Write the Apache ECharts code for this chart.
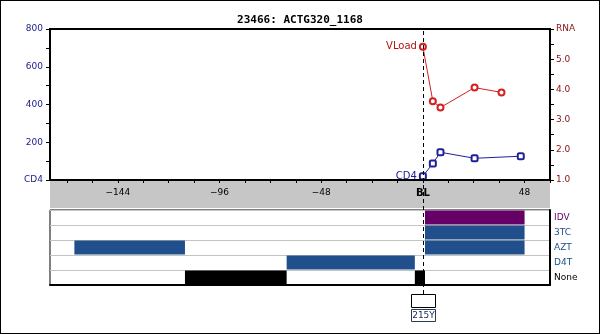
<!DOCTYPE html>
<html>
<head>
<meta charset="utf-8">
<script src="https://cdn.jsdelivr.net/npm/echarts@6/dist/echarts.min.js"></script>
<style>
  html, body { margin: 0; padding: 0; background: #fff; }
  #wrap { position: relative; width: 600px; height: 334px; }
  #chart { width: 600px; height: 334px; }
  #frame { position: absolute; left: 0; top: 0; width: 600px; height: 334px; box-sizing: border-box;
           border: 1px solid #000; pointer-events: none; }
</style>
</head>
<body>
<div id="wrap"><div id="chart"></div><div id="frame"></div></div>
<script>
// Patient record: viral load (log RNA) and CD4 counts by week relative to baseline
const TITLE = '23466: ACTG320_1168';

const rnaWeeks  = [0, 4.7, 8.3, 24.4, 37.1];
const rnaLog    = [5.41, 3.61, 3.40, 4.06, 3.90];

const cd4Weeks  = [0, 4.7, 8.3, 24.4, 46.2];
const cd4Counts = [20, 88, 147, 115, 126];

// Treatment history rows (top to bottom) and periods [drug, startWeek, endWeek]
const drugRows = ['IDV', '3TC', 'AZT', 'D4T', 'None'];
const drugColors = { IDV: '#660066', '3TC': '#214f8b', AZT: '#214f8b', D4T: '#214f8b', None: '#000000' };
const regimens = [
  ['AZT', -164.5, -112.3],
  ['None', -112.3, -64.3],
  ['D4T', -64.3, -3.8],
  ['None', -3.8, 1],
  ['IDV', 1, 48],
  ['3TC', 1, 48],
  ['AZT', 1, 48]
];

// Resistance mutations detected: [week, label]
const mutations = [[0, '215Y']];

// Week axis
const WEEK_MIN = -176, WEEK_MAX = 60;
const weekTicks = [-168, -156, -144, -132, -120, -108, -96, -84, -72, -60, -48, -36, -24, -12, 0, 12, 24, 36, 48, 60];
const weekLabels = [-144, -96, -48, 0, 48];

const FONT = 'DejaVu Sans';
const NAVY = '#1a1a8a';
const DARKRED = '#8a1010';
const RED = '#d42020';
const BLUE = '#20209a';

const chart = echarts.init(document.getElementById('chart'), null, { renderer: 'canvas' });

const hiddenX = (gi) => ({ type: 'value', gridIndex: gi, min: WEEK_MIN, max: WEEK_MAX, show: false });
const hiddenY = (gi) => ({ type: 'value', gridIndex: gi, min: 0, max: 1, show: false });

function withFirstLabel(xs, ys, text, color) {
  return xs.map((x, i) => i === 0
    ? { value: [x, ys[i]], label: { show: true, formatter: text, position: 'left', distance: 2,
        color: color, fontFamily: FONT, fontSize: 10 } }
    : { value: [x, ys[i]] });
}

const option = {
  animation: false,
  backgroundColor: '#fff',
  title: {
    text: TITLE, left: 'center', top: 10,
    textStyle: { fontFamily: 'DejaVu Sans Mono', fontWeight: 'bold', fontSize: 11, color: '#000' }
  },
  grid: [
    // 0: main measurement plot
    { left: 50, top: 29, width: 500, height: 151, show: true, borderColor: '#000', borderWidth: 2, backgroundColor: '#fff' },
    // 1: gray week-axis band
    { left: 50, top: 181, width: 500, height: 27, show: true, backgroundColor: '#c6c6c6', borderWidth: 0 },
    // 2: treatment panel
    { left: 50, top: 210, width: 500, height: 75, show: true, borderColor: '#000', borderWidth: 1, backgroundColor: '#fff' },
    // 3: baseline overlay
    { left: 50, top: 29, width: 500, height: 265 },
    // 4: mutation annotations
    { left: 50, top: 294, width: 500, height: 30 }
  ],
  xAxis: [
    {
      type: 'value', gridIndex: 0, min: WEEK_MIN, max: WEEK_MAX, z: 5,
      axisLine: { show: true, onZero: false, lineStyle: { color: '#000', width: 2 } },
      axisTick: { show: true, inside: false, length: 3, customValues: weekTicks, lineStyle: { color: '#000' } },
      axisLabel: {
        show: true, customValues: weekLabels, margin: 8,
        fontFamily: FONT, fontSize: 9, color: '#000',
        formatter: v => v === 0 ? '{b|BL}' : String(v).replace('-', '\u2212'),
        rich: { b: { fontFamily: FONT, fontSize: 10, fontWeight: 'bold', color: '#000' } }
      },
      splitLine: { show: false }
    },
    hiddenX(1),
    {
      type: 'value', gridIndex: 2, min: WEEK_MIN, max: WEEK_MAX,
      axisLine: { show: true, onZero: false, lineStyle: { color: '#000', width: 2 } },
      axisTick: { show: false }, axisLabel: { show: false }, splitLine: { show: false }
    },
    hiddenX(3),
    hiddenX(4)
  ],
  yAxis: [
    {
      type: 'value', gridIndex: 0, min: 0, max: 800, interval: 100, position: 'left',
      axisLine: { show: true, onZero: false, lineStyle: { color: '#000', width: 2 } },
      axisTick: { show: true, inside: false, length: 4, lineStyle: { color: '#000' } },
      axisLabel: {
        margin: 7, fontFamily: FONT, fontSize: 9, color: NAVY,
        formatter: v => v === 0 ? 'CD4' : (v % 200 === 0 ? String(v) : '')
      },
      splitLine: { show: false }
    },
    {
      type: 'value', gridIndex: 0, min: 1, max: 6, interval: 0.5, position: 'right',
      axisLine: { show: true, onZero: false, lineStyle: { color: '#000', width: 2 } },
      axisTick: { show: true, inside: false, length: 4, lineStyle: { color: '#000' } },
      axisLabel: {
        margin: 6, fontFamily: FONT, fontSize: 9, color: DARKRED,
        formatter: v => v === 6 ? 'RNA' : (Number.isInteger(v) ? v.toFixed(1) : '')
      },
      splitLine: { show: false }
    },
    hiddenY(1),
    {
      type: 'category', gridIndex: 2, data: drugRows, inverse: true, position: 'right',
      axisLine: { show: true, onZero: false, lineStyle: { color: '#000', width: 2 } },
      axisTick: { show: false },
      axisLabel: {
        margin: 4, fontFamily: FONT, fontSize: 9,
        color: (v) => drugColors[v]
      },
      splitLine: { show: true, lineStyle: { color: '#c4c4c4', width: 1 } }
    },
    hiddenY(3),
    hiddenY(4)
  ],
  series: [
    {
      name: 'VLoad', type: 'line', xAxisIndex: 0, yAxisIndex: 1, z: 4,
      data: withFirstLabel(rnaWeeks, rnaLog, 'VLoad', '#b01515'),
      symbol: 'emptyCircle', symbolSize: 6,
      lineStyle: { color: RED, width: 1 },
      itemStyle: { color: RED, borderColor: RED, borderWidth: 1 }
    },
    {
      name: 'CD4', type: 'line', xAxisIndex: 0, yAxisIndex: 0, z: 4,
      data: withFirstLabel(cd4Weeks, cd4Counts, 'CD4', BLUE),
      symbol: 'emptyRoundRect', symbolSize: 6,
      lineStyle: { color: BLUE, width: 1 },
      itemStyle: { color: BLUE, borderColor: BLUE, borderWidth: 1 }
    },
    {
      name: 'Treatment', type: 'custom', xAxisIndex: 2, yAxisIndex: 3,
      encode: { x: [1, 2], y: 0 },
      data: regimens.map(r => [drugRows.indexOf(r[0]), r[1], r[2]]),
      renderItem: (params, api) => {
        const row = api.value(0);
        const a = api.coord([api.value(1), row]);
        const b = api.coord([api.value(2), row]);
        const h = api.size([0, 1])[1];
        return {
          type: 'rect',
          shape: { x: a[0], y: a[1] - h / 2 + 0.5, width: b[0] - a[0], height: h - 1 },
          style: { fill: drugColors[drugRows[row]] }
        };
      }
    },
    {
      name: 'Baseline', type: 'line', xAxisIndex: 3, yAxisIndex: 4, z: 6,
      data: [[0, 0]], showSymbol: false, symbol: 'none', lineStyle: { width: 0 },
      markLine: {
        silent: true, symbol: 'none', animation: false,
        label: { show: false },
        lineStyle: { color: '#000', type: [4, 3], width: 1 },
        data: [{ xAxis: 0 }]
      }
    },
    {
      name: 'Mutations', type: 'custom', xAxisIndex: 4, yAxisIndex: 5,
      data: mutations,
      encode: { x: 0 },
      renderItem: (params, api) => {
        const p = api.coord([api.value(0), 1]);
        const x = Math.round(p[0]) + 0.5;
        const y = Math.round(p[1]) + 0.5;
        return {
          type: 'group',
          children: [
            { type: 'rect', shape: { x: x - 12, y: y, width: 24, height: 13 },
              style: { fill: '#fff', stroke: '#000', lineWidth: 1 } },
            { type: 'rect', shape: { x: x - 12, y: y + 15, width: 24, height: 12 },
              style: { fill: '#fff', stroke: '#2a3a55', lineWidth: 1 } },
            { type: 'text', x: x, y: y + 21.5,
              style: { text: mutations[params.dataIndex][1], fill: '#1a3060',
                       font: '9px "DejaVu Sans"', align: 'center', verticalAlign: 'middle' } }
          ]
        };
      }
    }
  ]
};

chart.setOption(option);
</script>
</body>
</html>
